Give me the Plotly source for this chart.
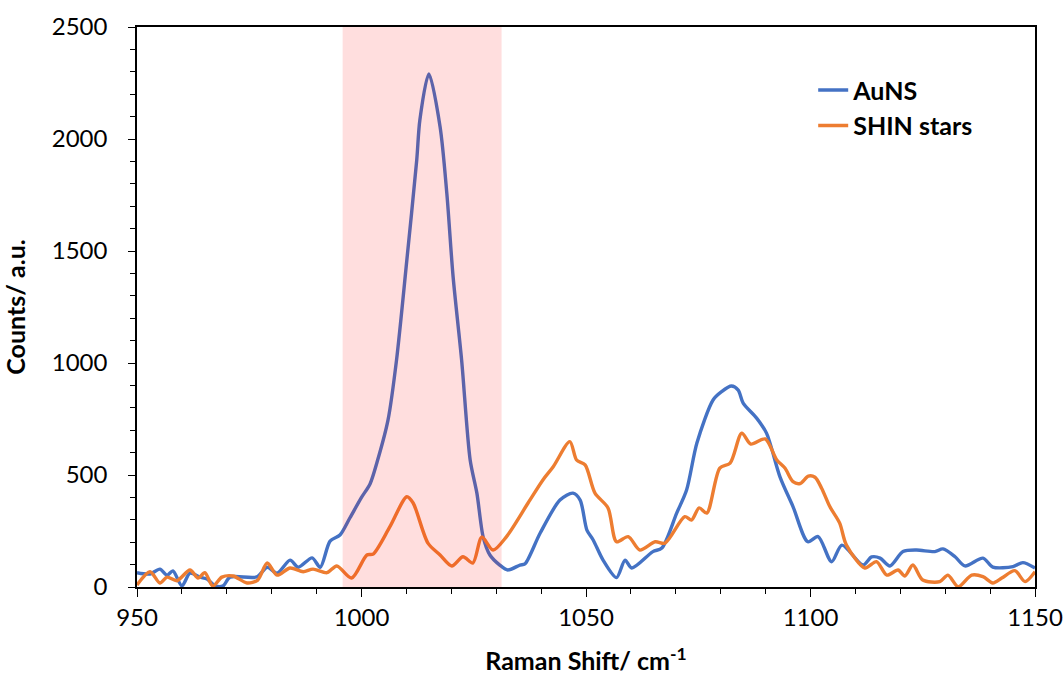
import plotly.graph_objects as go

# AuNS spectrum (traced)
auns_x = [950, 952.9, 955.1, 956.7, 958.0, 960.0, 961.8, 964.0, 965.6, 967.4, 969.2, 970.7,
          976.7, 979.0, 981.2, 984.1, 985.9, 989.0, 990.8, 993.0, 995.2, 997.4, 1000, 1001.9,
          1003.5, 1005.9, 1007.8, 1010.1, 1012.3, 1013.0, 1015.0, 1017.5, 1019.0, 1020.4,
          1022.3, 1024.2, 1025.7, 1027.1, 1028.6, 1030.8, 1032.6, 1035.3, 1036.4, 1039.8,
          1044.2, 1047.1, 1048.7, 1050.2, 1051.6, 1053.8, 1056.8, 1058.7, 1060.2, 1064.9,
          1066.9, 1070.2, 1072.4, 1074.7, 1078.3, 1080.2, 1082.4, 1083.9, 1085, 1088, 1090.2,
          1093.2, 1096.1, 1099.4, 1101.7, 1104.7, 1107, 1111.7, 1113.6, 1115.5, 1117.7,
          1120.6, 1123.6, 1127.7, 1129.5, 1132.2, 1134.4, 1138.4, 1140.6, 1145.1, 1147.3, 1150]
auns_y = [64, 58, 80, 53, 72, 5, 62, 44, 36, 5, 5, 44,
          45, 88, 62, 120, 88, 130, 88, 205, 232, 308, 400, 460,
          560, 745, 1013, 1460, 1906, 2085, 2290, 2055, 1758, 1385,
          1013, 567, 419, 223, 143, 98, 76, 98, 103, 241,
          388, 419, 388, 254, 210, 120, 42, 120, 85, 158,
          174, 330, 433, 643, 835, 872, 897, 879, 821, 754, 687,
          492, 359, 202, 225, 113, 187, 98, 134, 129, 94,
          158, 165, 158, 170, 135, 94, 129, 89, 91, 109, 85]

# SHIN stars spectrum (traced)
shin_x = [950, 952.9, 955.1, 956.7, 958.9, 961.8, 963.6, 965.1, 966.9, 968.9, 971.4, 974.5,
          976.9, 979, 981.2, 984.1, 987, 989.2, 992.3, 994.5, 997.8, 1001.2, 1002.6, 1006.3,
          1010.1, 1011.5, 1014.8, 1017.5, 1020.1, 1022.6, 1024.8, 1026.8, 1029.3, 1032.3,
          1037.1, 1040.4, 1042.7, 1046.4, 1047.9, 1049.8, 1052, 1054.9, 1056.8, 1059.4, 1062,
          1065.4, 1067.6, 1072, 1073.5, 1075.2, 1076.9, 1079.8, 1082.1, 1084.7, 1086.7, 1089.9,
          1092.5, 1094.3, 1096.1, 1097.7, 1099.5, 1101, 1102.5, 1104.3, 1106.5, 1108, 1112.1,
          1114.7, 1117, 1119.5, 1121, 1122.8, 1125, 1128.8, 1130.6, 1132.9, 1135.9, 1138.4,
          1140.6, 1142.6, 1145.5, 1147.8, 1150]
shin_y = [9, 68, 18, 44, 28, 76, 40, 64, 4, 44, 49, 18,
          31, 107, 53, 85, 68, 80, 64, 94, 40, 143, 147, 268,
          403, 375, 196, 143, 94, 135, 107, 223, 165, 225,
          375, 478, 537, 649, 567, 545, 419, 353, 202, 225, 165,
          202, 196, 314, 299, 353, 330, 531, 553, 687, 638, 661,
          567, 531, 470, 462, 495, 490, 440, 359, 285, 187, 85,
          113, 53, 76, 49, 98, 31, 24, 53, 1, 53, 46,
          18, 40, 73, 24, 68]

highlight_range = [995.8, 1031.2]

FONT = "Lato, Carlito, sans-serif"

fig = go.Figure()
fig.add_trace(go.Scatter(x=auns_x, y=auns_y, mode="lines", name="AuNS",
                         line=dict(color="#4472C4", width=3.4, shape="spline", smoothing=0.8)))
fig.add_trace(go.Scatter(x=shin_x, y=shin_y, mode="lines", name="SHIN stars",
                         line=dict(color="#ED7D31", width=3.4, shape="spline", smoothing=0.8)))

fig.add_shape(type="rect", xref="x", yref="paper", x0=highlight_range[0], x1=highlight_range[1],
              y0=0, y1=1, fillcolor="rgba(255,0,0,0.13)", line=dict(width=0), layer="above")

fig.update_layout(
    width=1064, height=677,
    margin=dict(l=137, r=29, t=27, b=90, autoexpand=False),
    plot_bgcolor="white", paper_bgcolor="white",
    font=dict(family=FONT, color="black", size=22),
    legend=dict(x=0.753, y=0.928, xanchor="left", yanchor="top",
                font=dict(family=FONT, size=25, color="black", weight="bold"),
                itemwidth=30, bgcolor="rgba(0,0,0,0)"),
    showlegend=True,
)
fig.update_xaxes(range=[950, 1150], dtick=50, tick0=950, showgrid=False, zeroline=False,
                 showline=True, linecolor="black", linewidth=1.5, mirror=True,
                 ticks="outside", ticklen=8, tickcolor="black", tickwidth=1.2,
                 tickfont=dict(size=24, family=FONT), automargin=False,
                 minor=dict(dtick=10, ticks="outside", ticklen=5, tickcolor="black", tickwidth=1),
                 title=dict(text="<b>Raman Shift/ cm<sup>-1</sup></b>", standoff=23,
                            font=dict(size=25, family=FONT)))
fig.update_yaxes(range=[0, 2500], dtick=500, showgrid=False, zeroline=False,
                 showline=True, linecolor="black", linewidth=1.5, mirror=True,
                 ticks="outside", ticklen=7, tickcolor="black", tickwidth=1.2,
                 tickfont=dict(size=24, family=FONT), ticklabelstandoff=16, automargin=False,
                 minor=dict(dtick=100, ticks="outside", ticklen=5, tickcolor="black", tickwidth=1),
                 title=dict(text="<b>Counts/ a.u.</b>", standoff=20,
                            font=dict(size=25, family=FONT)))

fig.write_html("out.html")
